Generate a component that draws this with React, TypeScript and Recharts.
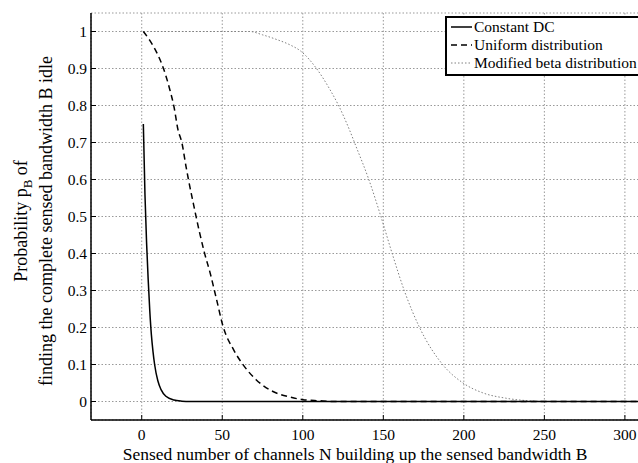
import { CartesianGrid, Legend, Line, LineChart, XAxis, YAxis } from "recharts";

const xTicks = [0, 50, 100, 150, 200, 250, 300];
const yTicks = [0, 0.1, 0.2, 0.3, 0.4, 0.5, 0.6, 0.7, 0.8, 0.9, 1];

const seriesNames = ["Constant DC", "Uniform distribution", "Modified beta distribution"];

const constantN = [1, 2, 3, 4, 5, 6, 7, 8, 10, 12, 15, 20, 25, 30, 40, 310];
const constantP = [0.75, 0.56, 0.43, 0.33, 0.245, 0.18, 0.135, 0.1, 0.056, 0.032, 0.014, 0.004, 0.001, 0, 0, 0];

const uniformN = [1, 5, 10, 13.5, 17.5, 20, 22.5, 25, 27.5, 29, 32, 36, 39, 42.5, 46.5, 50.5, 57, 63, 71, 81.5, 92, 100, 110, 120, 310];
const uniformP = [1, 0.976, 0.937, 0.9, 0.842, 0.797, 0.735, 0.698, 0.635, 0.6, 0.536, 0.455, 0.401, 0.347, 0.275, 0.203, 0.14, 0.099, 0.059, 0.027, 0.012, 0.005, 0.002, 0, 0];

const betaN = [1, 50, 67, 75, 84, 92, 99, 108.5, 117, 122, 129, 133, 141, 148.5, 155.5, 163, 172.5, 187, 199.5, 212, 226, 240, 250, 310];
const betaP = [1, 1, 1, 0.991, 0.978, 0.964, 0.946, 0.9, 0.842, 0.802, 0.734, 0.69, 0.6, 0.5, 0.4, 0.3, 0.2, 0.099, 0.05, 0.023, 0.009, 0.002, 0, 0];

const toRows = (ns: number[], ps: number[]) => ns.map((n, i) => ({ n, p: ps[i] }));

const constantData = toRows(constantN, constantP);
const uniformData = toRows(uniformN, uniformP);
const betaData = toRows(betaN, betaP);

const FONT = "Liberation Serif, Times New Roman, Tinos, DejaVu Serif, serif";

const lineStyles = [
  { stroke: "#000", dash: undefined, width: 1.5 },
  { stroke: "#000", dash: "6 4", width: 1.5 },
  { stroke: "#808080", dash: "1.5 2", width: 1 },
];

function LegendBox() {
  return (
    <div
      style={{
        border: "2px solid #000",
        background: "#fff",
        width: 200,
        padding: "0px 0 2px 4px",
        fontFamily: FONT,
        fontSize: 15.5,
        lineHeight: "18px",
        color: "#000",
      }}
    >
      {seriesNames.map((name, i) => (
        <div key={name} style={{ display: "flex", alignItems: "center", whiteSpace: "nowrap" }}>
          <svg width={22} height={10} style={{ marginRight: 1 }}>
            <line
              x1={0}
              x2={21}
              y1={5}
              y2={5}
              stroke={lineStyles[i].stroke}
              strokeWidth={lineStyles[i].width}
              strokeDasharray={lineStyles[i].dash}
            />
          </svg>
          <span>{name}</span>
        </div>
      ))}
    </div>
  );
}

function YLabel() {
  return (
    <g style={{ fontFamily: FONT, fontSize: 18 }} fill="#000">
      <text transform="rotate(-90, 27, 221)" x={27} y={221} textAnchor="middle">
        Probability p
        <tspan style={{ fontSize: 13 }} dy={5}>B</tspan>
        <tspan dy={-5}> of</tspan>
      </text>
      <text transform="rotate(-90, 52, 221)" x={52} y={221} textAnchor="middle">
        finding the complete sensed bandwidth B idle
      </text>
    </g>
  );
}

function XLabel() {
  return (
    <text x={355} y={460} textAnchor="middle" style={{ fontFamily: FONT, fontSize: 17.5 }} fill="#000">
      Sensed number of channels N building up the sensed bandwidth B
    </text>
  );
}

export default function App() {
  const tickStyle = { style: { fontFamily: FONT, fontSize: 15.5 }, fill: "#000" };
  return (
    <div style={{ position: "fixed", left: 0, top: 0, width: 638, height: 463, overflow: "hidden", background: "#fff", fontFamily: FONT }}>
      <LineChart width={660} height={463} margin={{ top: 13, right: 19, left: 0, bottom: 13 }}>
        <CartesianGrid stroke="#999" strokeWidth={1} strokeDasharray="1.5 2" />
        <XAxis
          type="number"
          dataKey="n"
          domain={[-31.5, 310]}
          allowDataOverflow
          ticks={xTicks}
          interval={0}
          height={30}
          tickSize={-5}
          tickMargin={14}
          stroke="#000"
          axisLine={{ stroke: "#000", strokeWidth: 1.5 }}
          tickLine={{ stroke: "#000" }}
          tick={tickStyle}
          label={<XLabel />}
        />
        <XAxis
          xAxisId="top"
          orientation="top"
          type="number"
          domain={[-31.5, 310]}
          allowDataOverflow
          ticks={xTicks}
          interval={0}
          height={0}
          tickSize={-5}
          tickFormatter={() => ""}
          axisLine={{ stroke: "#000", strokeWidth: 1.5 }}
          tickLine={{ stroke: "#000" }}
        />
        <YAxis
          type="number"
          domain={[-0.05, 1.05]}
          allowDataOverflow
          ticks={yTicks}
          interval={0}
          width={91}
          tickSize={-5}
          tickMargin={9}
          axisLine={{ stroke: "#000", strokeWidth: 1.5 }}
          tickLine={{ stroke: "#000" }}
          tick={tickStyle}
          tickFormatter={(v: number) => String(Math.round(v * 10) / 10)}
          label={<YLabel />}
        />
        <Line
          data={betaData}
          dataKey="p"
          name={seriesNames[2]}
          type="monotone"
          stroke={lineStyles[2].stroke}
          strokeWidth={lineStyles[2].width}
          strokeDasharray={lineStyles[2].dash}
          dot={false}
          isAnimationActive={false}
        />
        <Line
          data={uniformData}
          dataKey="p"
          name={seriesNames[1]}
          type="monotone"
          stroke={lineStyles[1].stroke}
          strokeWidth={lineStyles[1].width}
          strokeDasharray={lineStyles[1].dash}
          dot={false}
          isAnimationActive={false}
        />
        <Line
          data={constantData}
          dataKey="p"
          name={seriesNames[0]}
          type="monotone"
          stroke={lineStyles[0].stroke}
          strokeWidth={lineStyles[0].width}
          dot={false}
          isAnimationActive={false}
        />
        <Legend
          layout="vertical"
          align="center"
          verticalAlign="middle"
          content={() => <LegendBox />}
          wrapperStyle={{ left: 445, top: 16, width: 210, height: 58 }}
        />
      </LineChart>
    </div>
  );
}
